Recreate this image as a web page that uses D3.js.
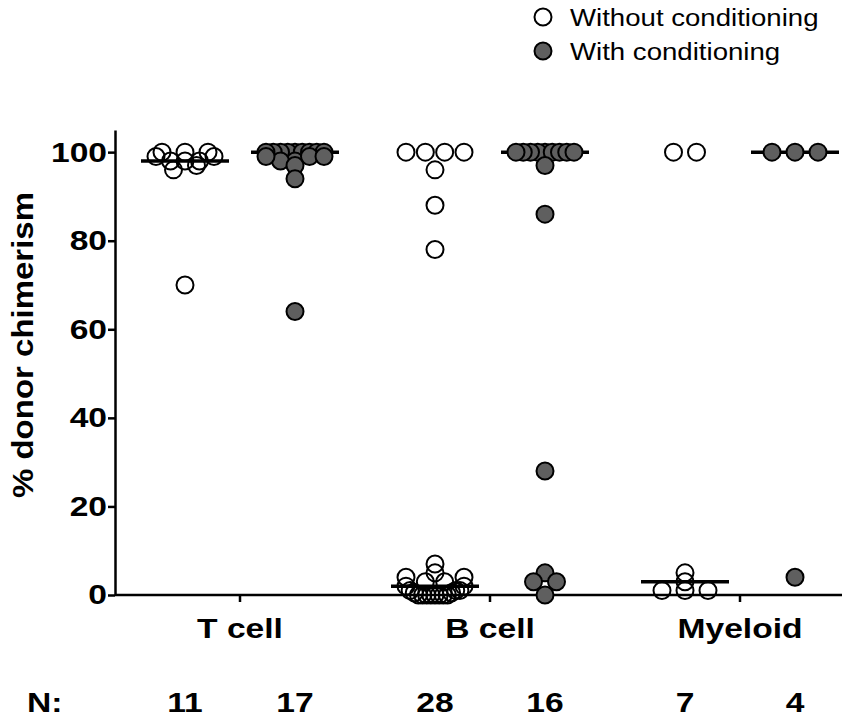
<!DOCTYPE html>
<html>
<head>
<meta charset="utf-8">
<script src="https://cdn.jsdelivr.net/npm/d3@7"></script>
<style>
  body { margin: 0; background: #fff; }
  text { font-family: "Liberation Sans", Arial, sans-serif; }
</style>
</head>
<body>
<svg id="plotSVG" width="860" height="721"></svg>
<script>
// categories and series
const cellTypes = ["T cell", "B cell", "Myeloid"];
const seriesNames = ["Without conditioning", "With conditioning"];

// % donor chimerism per animal
const tWithout = [100, 100, 100, 99, 99, 98, 98, 98, 97, 96, 70];
const tWith = [100, 100, 100, 100, 100, 100, 100, 100, 100, 99, 99, 99, 98, 98, 97, 94, 64];
const bWithout = [100, 100, 100, 100, 96, 88, 78, 7, 5, 4, 4, 3, 3, 2, 2, 1, 1, 1, 0.5, 0.5,
                  0, 0, 0, 0, 0, 0, 0, 0];
const bWith = [100, 100, 100, 100, 100, 100, 100, 100, 100, 97, 86, 28, 5, 3, 3, 0];
const mWithout = [100, 100, 5, 3, 1, 1, 1];
const mWith = [100, 100, 100, 4];

const yTicks = [0, 20, 40, 60, 80, 100];

// group list built from the arrays above
const groups = [
    {cat: "T cell", cond: 0, values: tWithout},
    {cat: "T cell", cond: 1, values: tWith},
    {cat: "B cell", cond: 0, values: bWithout},
    {cat: "B cell", cond: 1, values: bWith},
    {cat: "Myeloid", cond: 0, values: mWithout},
    {cat: "Myeloid", cond: 1, values: mWith}
];

const svg = d3.select('#plotSVG');

// layout
const axisLeftX = 115;
const axisRightX = 842;
const r = 8.5;
const groupOffset = 55;
const fillGrey = "#5f5f5f";
const stretch = 1.2;   // the original's lettering is wider than Arial

const xScale = d3.scalePoint()
    .domain(cellTypes)
    .range([240, 740]);

const yScale = d3.scaleLinear()
    .domain([0, 105])
    .range([595, 130]);

function groupX(g){
    return xScale(g.cat) + (g.cond === 0 ? -groupOffset : groupOffset);
}

// Prism-like scatter: points are binned in rows and spread evenly in each row
function scatterRows(values, cx){
    const rowH = 9;
    const maxWidth = 58;
    const spacing = 2 * r + 6;
    const rows = d3.group(values.map(v => ({v: v, y: yScale(v)})),
        d => Math.floor((yScale(0) - yScale(d.v)) / rowH));
    const out = [];
    rows.forEach(row => {
        const n = row.length;
        const step = n > 1 ? Math.min(spacing, maxWidth / (n - 1)) : 0;
        const slots = d3.range(n).map(i => (i - (n - 1) / 2) * step)
            .sort((a, b) => Math.abs(a) - Math.abs(b));
        // lowest values sit in the middle of the row
        row.sort((a, b) => a.v - b.v);
        row.forEach((p, i) => out.push({x: cx + slots[i], y: p.y, v: p.v}));
    });
    return out;
}

// axes
const yAxis = d3.axisLeft(yScale)
    .tickValues(yTicks)
    .tickSize(7)
    .tickSizeOuter(0);

const yG = svg.append('g')
    .attr('transform', 'translate(' + axisLeftX + ',0)')
    .call(yAxis);
yG.select('.domain').attr('stroke-width', 2.5);
yG.selectAll('.tick line').attr('stroke-width', 2.5);
yG.selectAll('.tick text')
    .attr('x', -8 / stretch)
    .attr('transform', 'scale(' + stretch + ',1)')
    .attr('font-size', 28)
    .attr('font-weight', 'bold')
    .attr('font-family', '"Liberation Sans", Arial, sans-serif')
    .attr('fill', '#000');

// x axis line with category ticks
svg.append('line')
    .attr('x1', axisLeftX).attr('x2', axisRightX)
    .attr('y1', yScale(0)).attr('y2', yScale(0))
    .attr('stroke', '#000').attr('stroke-width', 2.5);

svg.selectAll('.xtick')
    .data(cellTypes)
    .enter()
    .append('line')
    .attr('x1', d => xScale(d)).attr('x2', d => xScale(d))
    .attr('y1', yScale(0)).attr('y2', yScale(0) + 7)
    .attr('stroke', '#000').attr('stroke-width', 2.5);

svg.selectAll('.xlabel')
    .data(cellTypes)
    .enter()
    .append('text')
    .attr('transform', d => 'translate(' + xScale(d) + ',638) scale(' + stretch + ',1)')
    .attr('text-anchor', 'middle')
    .attr('font-size', 28)
    .attr('font-weight', 'bold')
    .text(d => d);

// y label
svg.append('text')
    .attr('transform', 'translate(33,345) rotate(-90) scale(1.1,1)')
    .attr('text-anchor', 'middle')
    .attr('font-size', 30)
    .attr('font-weight', 'bold')
    .text('% donor chimerism');

// median lines
groups.forEach(g => {
    const cx = groupX(g);
    const med = d3.median(g.values);
    svg.append('line')
        .attr('x1', cx - 44).attr('x2', cx + 44)
        .attr('y1', yScale(med)).attr('y2', yScale(med))
        .attr('stroke', '#000')
        .attr('stroke-width', 3.5);
});

// points
groups.forEach(g => {
    const pts = scatterRows(g.values, groupX(g));
    svg.append('g')
        .selectAll('circle')
        .data(pts)
        .enter()
        .append('circle')
        .attr('cx', d => d.x)
        .attr('cy', d => d.y)
        .attr('r', r)
        .attr('fill', g.cond === 0 ? 'none' : fillGrey)
        .attr('stroke', '#000')
        .attr('stroke-width', 2);
});

// N row
svg.append('text')
    .attr('transform', 'translate(27,712) scale(' + stretch + ',1)')
    .attr('font-size', 28)
    .attr('font-weight', 'bold')
    .text('N:');

svg.selectAll('.nlabel')
    .data(groups)
    .enter()
    .append('text')
    .attr('transform', d => 'translate(' + groupX(d) + ',712) scale(' + stretch + ',1)')
    .attr('text-anchor', 'middle')
    .attr('font-size', 28)
    .attr('font-weight', 'bold')
    .text(d => d.values.length);

// legend
const legend = svg.append('g').attr('transform', 'translate(543,17)');
seriesNames.forEach((name, i) => {
    legend.append('circle')
        .attr('cx', 0).attr('cy', i * 34)
        .attr('r', 8.5)
        .attr('fill', i === 0 ? '#fff' : fillGrey)
        .attr('stroke', '#000')
        .attr('stroke-width', 2);
    legend.append('text')
        .attr('transform', 'translate(27,' + (i * 34 + 8.5) + ') scale(1.15,1)')
        .attr('font-size', 24)
        .text(name);
});
</script>
</body>
</html>
